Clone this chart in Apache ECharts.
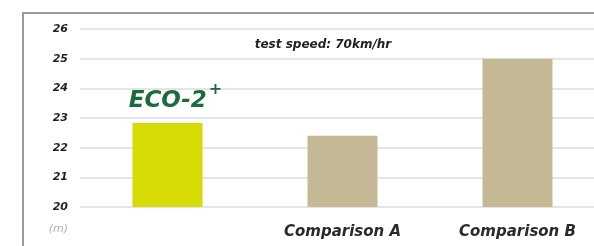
<!DOCTYPE html>
<html>
<head>
<meta charset="utf-8">
<script src="https://cdn.jsdelivr.net/npm/echarts@6/dist/echarts.min.js"></script>
<style>html,body{margin:0;padding:0;background:#fff;}#c{width:594px;height:246px;}</style>
</head>
<body>
<div id="c"></div>
<script>
var categories = ['ECO-2+', 'Comparison A', 'Comparison B'];
var values = [22.83, 22.4, 25.0];
var barColors = ['#d6da05', '#c5b995', '#c5b995'];
var yTicks = { min: 20, max: 26, interval: 1 };
var unitLabel = '(m)';
var noteText = 'test speed: 70km/hr';

var chart = echarts.init(document.getElementById('c'), null, { renderer: 'canvas' });
chart.setOption({
  animation: false,
  backgroundColor: '#ffffff',
  grid: { left: 80, right: -11, top: 29, bottom: 39, outerBoundsMode: 'none', containLabel: false },
  graphic: [
    { type: 'rect', shape: { x: 23, y: 13, width: 620, height: 300 },
      style: { fill: 'none', stroke: '#9a9a9a', lineWidth: 2 }, z: 0 },
    { type: 'text', x: 323, y: 45,
      style: { text: noteText, fill: '#222', font: 'italic bold 12px "DejaVu Sans"', textAlign: 'center', textVerticalAlign: 'middle' } }
  ],
  xAxis: {
    type: 'category',
    data: categories,
    axisLine: { show: false },
    axisTick: { show: false },
    axisLabel: {
      margin: 18,
      fontFamily: 'DejaVu Sans', fontStyle: 'italic', fontWeight: 'bold', fontSize: 15, color: '#2a2a2a',
      formatter: function (v, i) { return i === 0 ? '' : v; }
    }
  },
  yAxis: {
    type: 'value',
    min: yTicks.min, max: yTicks.max, interval: yTicks.interval,
    name: unitLabel,
    nameLocation: 'start',
    nameGap: 17,
    nameTextStyle: { align: 'right', padding: [0, 12, 0, 0], color: '#b0b0b0', fontStyle: 'italic', fontSize: 11, fontFamily: 'DejaVu Sans' },
    axisLine: { show: false },
    axisTick: { show: false },
    axisLabel: { margin: 12, color: '#222', fontFamily: 'DejaVu Sans', fontStyle: 'italic', fontWeight: 'bold', fontSize: 11 },
    splitLine: { lineStyle: { color: '#dcdcdc', width: 1.5 } }
  },
  series: [{
    type: 'bar',
    barWidth: 70,
    data: values.map(function (v, i) {
      var d = { value: v, itemStyle: { color: barColors[i] } };
      if (i === 0) {
        d.label = {
          show: true, position: 'top', distance: 3, offset: [8, 0],
          formatter: '{m|ECO-2}{s|+}',
          rich: {
            m: { fontFamily: 'DejaVu Sans', fontStyle: 'italic', fontWeight: 'bold', fontSize: 23, color: '#1c6b3c' },
            s: { fontFamily: 'DejaVu Sans', fontWeight: 'bold', fontSize: 16, color: '#1c6b3c', padding: [0, 0, 22, 2] }
          }
        };
      }
      return d;
    })
  }]
});
</script>
</body>
</html>
